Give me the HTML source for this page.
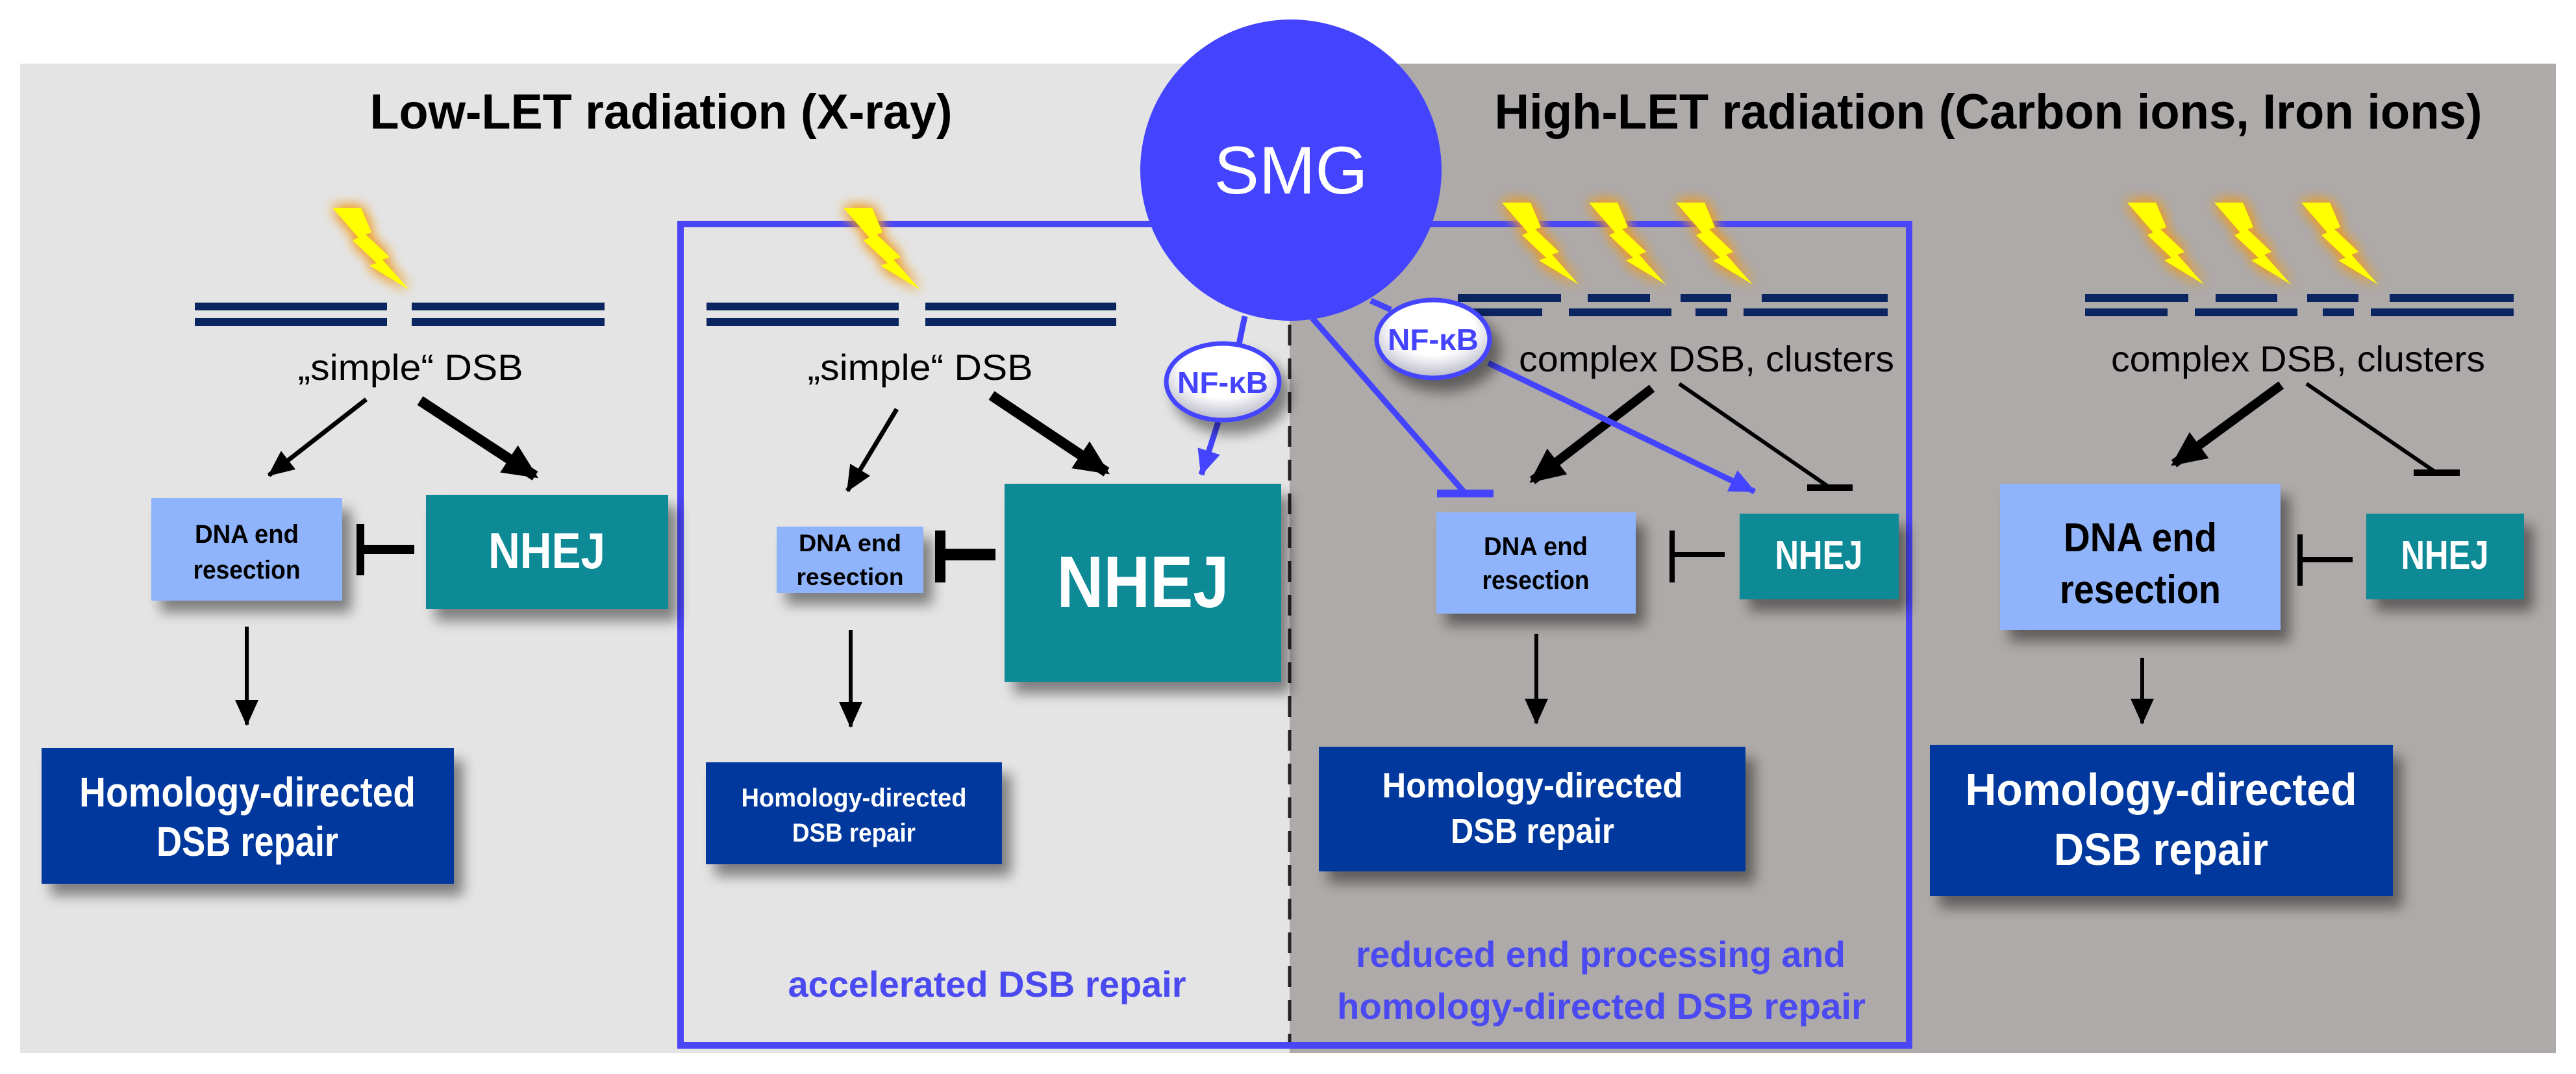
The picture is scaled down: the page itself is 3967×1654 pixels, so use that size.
<!DOCTYPE html>
<html><head><meta charset="utf-8"><style>
html,body{margin:0;padding:0;background:#fff;}
svg{display:block;}
text{font-family:"Liberation Sans",sans-serif;}
</style></head><body>
<svg width="3967" height="1654" viewBox="0 0 3967 1654" xmlns="http://www.w3.org/2000/svg">
<defs>
<filter id="sh" x="-20%" y="-20%" width="150%" height="160%"><feGaussianBlur in="SourceAlpha" stdDeviation="10"/><feOffset dx="14" dy="18"/><feComponentTransfer><feFuncA type="linear" slope="0.45"/></feComponentTransfer><feMerge><feMergeNode/><feMergeNode in="SourceGraphic"/></feMerge></filter>
<filter id="glow" x="-50%" y="-50%" width="200%" height="200%"><feGaussianBlur in="SourceAlpha" stdDeviation="10" result="b"/><feFlood flood-color="#f09a20"/><feComposite in2="b" operator="in"/><feMerge><feMergeNode/><feMergeNode/><feMergeNode in="SourceGraphic"/></feMerge></filter>
<radialGradient id="nf" cx="50%" cy="35%" r="65%"><stop offset="0.55" stop-color="#fff"/><stop offset="1" stop-color="#b8b8c8"/></radialGradient>
<marker id="ah" markerUnits="userSpaceOnUse" markerWidth="70" markerHeight="70" refX="48" refY="25" orient="auto"><path d="M0,0 L54,25 L0,50 Z" fill="#000"/></marker>
<marker id="ahs" markerUnits="userSpaceOnUse" markerWidth="60" markerHeight="60" refX="38" refY="18" orient="auto"><path d="M0,0 L40,18 L0,36 Z" fill="#000"/></marker>
<marker id="ahb" markerUnits="userSpaceOnUse" markerWidth="60" markerHeight="60" refX="38" refY="18" orient="auto"><path d="M0,0 L40,18 L0,36 Z" fill="#4444ff"/></marker>
<g id="bolt"><polygon points="0,0 44,0 60,38 51,41 88,76 77,80 118,126 57,89 68,85 31,50 40,46" fill="#ffff00" filter="url(#glow)"/></g>
</defs>

<rect x="31" y="98" width="1955" height="1524" fill="#e4e4e4"/>
<rect x="1986" y="98" width="1950" height="1524" fill="#aeaaa9"/>
<line x1="1986" y1="500" x2="1986" y2="1614" stroke="#222" stroke-width="5" stroke-dasharray="32,20"/>

<text x="1018" y="198" font-size="76" font-weight="bold" text-anchor="middle" textLength="897" lengthAdjust="spacingAndGlyphs">Low-LET radiation (X-ray)</text>
<text x="3062" y="198" font-size="76" font-weight="bold" text-anchor="middle" textLength="1521" lengthAdjust="spacingAndGlyphs">High-LET radiation (Carbon ions, Iron ions)</text>

<rect x="1048" y="345" width="1892" height="1265" fill="none" stroke="#4a45f5" stroke-width="10"/>

<use href="#bolt" x="512" y="320"/>
<use href="#bolt" x="1299" y="320"/>
<use href="#bolt" x="2313" y="312"/>
<use href="#bolt" x="2447" y="312"/>
<use href="#bolt" x="2581" y="312"/>
<use href="#bolt" x="3276" y="312"/>
<use href="#bolt" x="3410" y="312"/>
<use href="#bolt" x="3544" y="312"/>

<g fill="#0b2560">
<rect x="300" y="466" width="296" height="12"/><rect x="300" y="490" width="296" height="12"/>
<rect x="634" y="466" width="297" height="12"/><rect x="634" y="490" width="297" height="12"/>
<rect x="1088" y="466" width="296" height="12"/><rect x="1088" y="490" width="296" height="12"/>
<rect x="1425" y="466" width="294" height="12"/><rect x="1425" y="490" width="294" height="12"/>
<rect x="2245" y="453" width="159" height="12"/><rect x="2445" y="453" width="96" height="12"/><rect x="2588" y="453" width="78" height="12"/><rect x="2713" y="453" width="194" height="12"/>
<rect x="2245" y="475" width="130" height="12"/><rect x="2416" y="475" width="158" height="12"/><rect x="2611" y="475" width="49" height="12"/><rect x="2685" y="475" width="222" height="12"/>
<rect x="3211" y="453" width="159" height="12"/><rect x="3412" y="453" width="95" height="12"/><rect x="3553" y="453" width="79" height="12"/><rect x="3680" y="453" width="191" height="12"/>
<rect x="3211" y="475" width="127" height="12"/><rect x="3380" y="475" width="158" height="12"/><rect x="3577" y="475" width="48" height="12"/><rect x="3651" y="475" width="220" height="12"/>
</g>

<text x="632" y="585" font-size="56" text-anchor="middle" textLength="347" lengthAdjust="spacingAndGlyphs">„simple“ DSB</text>
<text x="1417" y="585" font-size="56" text-anchor="middle" textLength="347" lengthAdjust="spacingAndGlyphs">„simple“ DSB</text>
<text x="2628" y="572" font-size="56" text-anchor="middle" textLength="578" lengthAdjust="spacingAndGlyphs">complex DSB, clusters</text>
<text x="3539" y="572" font-size="56" text-anchor="middle" textLength="576" lengthAdjust="spacingAndGlyphs">complex DSB, clusters</text>

<circle cx="1988" cy="262" r="232" fill="#4444ff"/>
<text x="1988" y="298" font-size="104" fill="#fff" text-anchor="middle">SMG</text>

<g filter="url(#sh)">
<rect x="233" y="767" width="294" height="158" fill="#8fb4fb"/>
<rect x="656" y="762" width="373" height="176" fill="#088a96"/>
<rect x="64" y="1152" width="635" height="209" fill="#02389d"/>
<rect x="1196" y="811" width="226" height="102" fill="#8fb4fb"/>
<rect x="1547" y="745" width="426" height="305" fill="#088a96"/>
<rect x="1087" y="1174" width="456" height="157" fill="#02389d"/>
<rect x="2212" y="789" width="307" height="156" fill="#8fb4fb"/>
<rect x="2679" y="791" width="245" height="132" fill="#088a96"/>
<rect x="2031" y="1150" width="657" height="192" fill="#02389d"/>
<rect x="3080" y="745" width="432" height="225" fill="#8fb4fb"/>
<rect x="3644" y="791" width="243" height="132" fill="#088a96"/>
<rect x="2972" y="1147" width="713" height="233" fill="#02389d"/>
</g>

<g font-weight="bold" text-anchor="middle">
<text x="380" y="836" font-size="40" textLength="160" lengthAdjust="spacingAndGlyphs">DNA end</text>
<text x="380" y="891" font-size="40" textLength="165" lengthAdjust="spacingAndGlyphs">resection</text>
<text x="842" y="875" font-size="78" fill="#fff" textLength="180" lengthAdjust="spacingAndGlyphs">NHEJ</text>
<text x="381" y="1242" font-size="64" fill="#fff" textLength="518" lengthAdjust="spacingAndGlyphs">Homology-directed</text>
<text x="381" y="1318" font-size="64" fill="#fff" textLength="280" lengthAdjust="spacingAndGlyphs">DSB repair</text>

<text x="1309" y="849" font-size="37" textLength="158" lengthAdjust="spacingAndGlyphs">DNA end</text>
<text x="1309" y="901" font-size="37" textLength="165" lengthAdjust="spacingAndGlyphs">resection</text>
<text x="1760" y="935" font-size="112" fill="#fff" textLength="265" lengthAdjust="spacingAndGlyphs">NHEJ</text>
<text x="1315" y="1242" font-size="40" fill="#fff" textLength="347" lengthAdjust="spacingAndGlyphs">Homology-directed</text>
<text x="1315" y="1296" font-size="40" fill="#fff" textLength="190" lengthAdjust="spacingAndGlyphs">DSB repair</text>

<text x="2365" y="855" font-size="40" textLength="160" lengthAdjust="spacingAndGlyphs">DNA end</text>
<text x="2365" y="907" font-size="40" textLength="165" lengthAdjust="spacingAndGlyphs">resection</text>
<text x="2801" y="876" font-size="62" fill="#fff" textLength="135" lengthAdjust="spacingAndGlyphs">NHEJ</text>
<text x="2360" y="1228" font-size="54" fill="#fff" textLength="463" lengthAdjust="spacingAndGlyphs">Homology-directed</text>
<text x="2360" y="1298" font-size="54" fill="#fff" textLength="252" lengthAdjust="spacingAndGlyphs">DSB repair</text>

<text x="3296" y="849" font-size="62" textLength="236" lengthAdjust="spacingAndGlyphs">DNA end</text>
<text x="3296" y="929" font-size="62" textLength="248" lengthAdjust="spacingAndGlyphs">resection</text>
<text x="3765" y="876" font-size="62" fill="#fff" textLength="135" lengthAdjust="spacingAndGlyphs">NHEJ</text>
<text x="3328" y="1240" font-size="70" fill="#fff" textLength="603" lengthAdjust="spacingAndGlyphs">Homology-directed</text>
<text x="3328" y="1332" font-size="70" fill="#fff" textLength="330" lengthAdjust="spacingAndGlyphs">DSB repair</text>
</g>

<g font-weight="bold" fill="#4b4af0" text-anchor="middle">
<text x="1520" y="1535" font-size="56" textLength="613" lengthAdjust="spacingAndGlyphs">accelerated DSB repair</text>
<text x="2465" y="1489" font-size="56" textLength="754" lengthAdjust="spacingAndGlyphs">reduced end processing and</text>
<text x="2466" y="1569" font-size="56" textLength="814" lengthAdjust="spacingAndGlyphs">homology-directed DSB repair</text>
</g>

<g stroke="#000" fill="none">
<line x1="564" y1="615" x2="414" y2="732" stroke-width="7" marker-end="url(#ahs)"/>
<line x1="647" y1="617" x2="824" y2="733" stroke-width="16" marker-end="url(#ah)"/>
<line x1="1381" y1="630" x2="1305" y2="756" stroke-width="7" marker-end="url(#ahs)"/>
<line x1="1527" y1="609" x2="1704" y2="727" stroke-width="16" marker-end="url(#ah)"/>
<line x1="2544" y1="598" x2="2360" y2="740" stroke-width="14" marker-end="url(#ah)"/>
<line x1="3513" y1="593" x2="3348" y2="714" stroke-width="14" marker-end="url(#ah)"/>
<line x1="380" y1="965" x2="380" y2="1116" stroke-width="6" marker-end="url(#ahs)"/>
<line x1="1310" y1="970" x2="1310" y2="1119" stroke-width="6" marker-end="url(#ahs)"/>
<line x1="2366" y1="976" x2="2366" y2="1114" stroke-width="6" marker-end="url(#ahs)"/>
<line x1="3299" y1="1013" x2="3299" y2="1114" stroke-width="6" marker-end="url(#ahs)"/>
<line x1="2586" y1="591" x2="2818" y2="751" stroke-width="6"/>
<line x1="2783" y1="751" x2="2853" y2="751" stroke-width="10"/>
<line x1="3552" y1="591" x2="3752" y2="728" stroke-width="6"/>
<line x1="3717" y1="728" x2="3788" y2="728" stroke-width="10"/>
<line x1="555" y1="846" x2="638" y2="846" stroke-width="14"/>
<line x1="555" y1="807" x2="555" y2="886" stroke-width="12"/>
<line x1="1448" y1="854" x2="1533" y2="854" stroke-width="18"/>
<line x1="1448" y1="817" x2="1448" y2="897" stroke-width="16"/>
<line x1="2575" y1="854" x2="2656" y2="854" stroke-width="8"/>
<line x1="2575" y1="817" x2="2575" y2="897" stroke-width="8"/>
<line x1="3542" y1="862" x2="3623" y2="862" stroke-width="8"/>
<line x1="3542" y1="823" x2="3542" y2="902" stroke-width="8"/>
</g>

<g stroke="#4444ff" fill="none" stroke-width="9">
<line x1="1917" y1="487" x2="1908" y2="530"/>
<line x1="1876" y1="650" x2="1850" y2="731" marker-end="url(#ahb)"/>
<line x1="2021" y1="490" x2="2254" y2="757"/>
<line x1="2213" y1="760" x2="2300" y2="760" stroke-width="12"/>
<line x1="2111" y1="463" x2="2142" y2="477"/>
<line x1="2292" y1="559" x2="2702" y2="757" marker-end="url(#ahb)"/>
</g>

<g filter="url(#sh)">
<ellipse cx="1883" cy="588" rx="87" ry="59" fill="url(#nf)" stroke="#4444ff" stroke-width="7"/>
<ellipse cx="2207" cy="522" rx="87" ry="60" fill="url(#nf)" stroke="#4444ff" stroke-width="7"/>
</g>
<g font-weight="bold" fill="#4444ff" text-anchor="middle" font-size="46">
<text x="1883" y="605" textLength="140" lengthAdjust="spacingAndGlyphs">NF-κB</text>
<text x="2207" y="539" textLength="140" lengthAdjust="spacingAndGlyphs">NF-κB</text>
</g>
</svg>
</body></html>
